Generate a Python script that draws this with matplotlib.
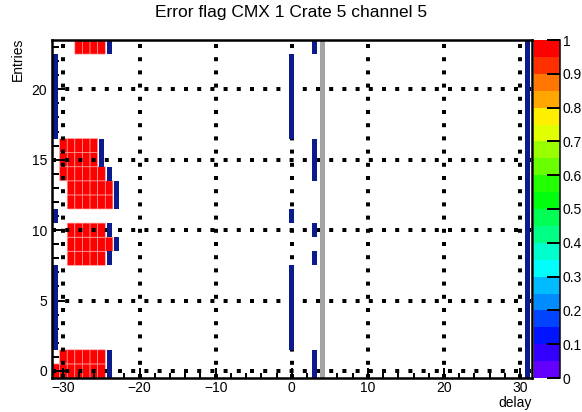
import colorsys
import numpy as np
import matplotlib
matplotlib.use("Agg")
import matplotlib.pyplot as plt
from matplotlib.colors import ListedColormap, BoundaryNorm

plt.rcParams['font.family'] = ['Liberation Sans', 'DejaVu Sans']

# ---------------- data ----------------
title = "Error flag CMX 1 Crate 5 channel 5"
x_label = "delay"
y_label = "Entries"

# cells with value 1 (red): row, first delay bin, last delay bin
red_rows = [0, 1, 8, 9, 10, 12, 13, 14, 15, 16, 23]
red_first = [-31, -30, -29, -29, -29, -29, -29, -30, -30, -30, -28]
red_last = [-25, -25, -25, -24, -25, -24, -24, -25, -26, -26, -25]
red_value = 1.0

# dark-blue markers: delay, first row, last row
marker_x = [-31, -31, -31, 0, 0, 0, -25, -24, -24, -24, -24, -24,
            -23, -23, 3, 3, 3, 3, 3, 31]
marker_lo = [2, 11, 17, 2, 11, 17, 15, 0, 8, 10, 14, 23,
             9, 12, 0, 8, 10, 14, 23, 0]
marker_hi = [7, 11, 22, 7, 11, 22, 16, 1, 8, 10, 14, 23,
             9, 13, 1, 8, 10, 16, 23, 23]

grey_line_x = 4

x_ticks = [-30, -20, -10, 0, 10, 20, 30]
y_ticks = [0, 5, 10, 15, 20]
cbar_ticks = [0, 0.1, 0.2, 0.3, 0.4, 0.5, 0.6, 0.7, 0.8, 0.9, 1]
cbar_labels = ["0", "0.1", "0.2", "0.3", "0.4", "0.5", "0.6", "0.7", "0.8", "0.9", "1"]

x_min, x_max = -31.5, 31.5
y_min, y_max = -0.5, 23.5

# ---------------- build histogram ----------------
x_edges = np.arange(x_min, x_max + 0.5, 1.0)
y_edges = np.arange(y_min, y_max + 0.5, 1.0)
Z = np.full((len(y_edges) - 1, len(x_edges) - 1), np.nan)
for r, a, b in zip(red_rows, red_first, red_last):
    for xb in range(a, b + 1):
        Z[r, int(xb - x_min - 0.5)] = red_value
Zm = np.ma.masked_invalid(Z)

# ROOT "pretty" palette, 20 contour levels
ncont = 20
cols = []
for k in range(ncont):
    i = int((k + 0.99) * 50 / ncont)
    hue = 280 - (i + 1) * 280 / 50
    cols.append(colorsys.hls_to_rgb(hue / 360.0, 0.5, 1.0))
cmap = ListedColormap(cols)
norm = BoundaryNorm(np.linspace(0, 1, ncont + 1), ncont)

W, H = 582, 412
fig = plt.figure(figsize=(W / 100, H / 100), dpi=100)
px = 100 / 72.0  # pixels per point

fl, fr, ft, fb = 52, 531.5, 40, 378
ax = fig.add_axes([fl / W, 1 - fb / H, (fr - fl) / W, (fb - ft) / H])

ax.pcolor(x_edges, y_edges, Zm, cmap=cmap, norm=norm,
          edgecolors='#ffa8a8', linewidth=0.45, zorder=1)

# grid (dotted, drawn over the cells)
ax.set_axisbelow('line')
ax.grid(True, which='major', color='black', linestyle=(0, (1, 2.3)),
        linewidth=4 / px)

# dark blue markers
for xv, lo, hi in zip(marker_x, marker_lo, marker_hi):
    ax.bar(xv, hi - lo + 1, bottom=lo - 0.5, width=0.64,
           color='#0b1a8c', linewidth=0, zorder=3)

ax.axvline(grey_line_x, color='#a3a3a3', linewidth=5 / px, zorder=4)

ax.set_xlim(x_min, x_max)
ax.set_ylim(y_min, y_max)
ax.set_xticks(x_ticks)
ax.set_xticks(np.arange(-30, 31, 2), minor=True)
ax.set_yticks(y_ticks)
ax.set_yticks(np.arange(0, 24, 1), minor=True)

ax.tick_params(axis='both', which='both', direction='in', width=2 / px,
               labelsize=10, top=False, right=False, color='black')
ax.tick_params(axis='y', which='major', length=13 / px, pad=5 / px)
ax.tick_params(axis='y', which='minor', length=6.5 / px)
ax.tick_params(axis='x', which='major', length=10 / px, pad=3 / px)
ax.tick_params(axis='x', which='minor', length=5 / px)
for s in ax.spines.values():
    s.set_linewidth(2.5 / px)
    s.set_zorder(5)

# colour bar
cax = fig.add_axes([533.5 / W, 1 - fb / H, 26 / W, (fb - ft) / H])
levels = np.linspace(0, 1, ncont + 1)
cax.pcolormesh([0, 1], levels, (levels[:-1] + 0.025).reshape(-1, 1),
               cmap=cmap, norm=norm)
cax.set_xlim(0, 1)
cax.set_ylim(0, 1)
cax.set_xticks([])
cax.yaxis.tick_right()
cax.set_yticks(cbar_ticks)
cax.set_yticklabels(cbar_labels)
cax.tick_params(axis='y', direction='in', length=13 / px, width=2 / px,
                labelsize=10, pad=3 / px, left=False, right=True)
for side in ['left', 'top', 'bottom']:
    cax.spines[side].set_visible(False)
cax.spines['right'].set_linewidth(1.5 / px)

# texts
fig.text(0.5, 1 - 13 / H, title, ha='center', va='center', fontsize=12.5)
fig.text(18 / W, 1 - 38 / H, y_label, rotation=90, ha='center', va='top',
         fontsize=10)
fig.text(fr / W, 1 - 403 / H, x_label, ha='right', va='center', fontsize=10)

fig.savefig("out.png", dpi=100)
